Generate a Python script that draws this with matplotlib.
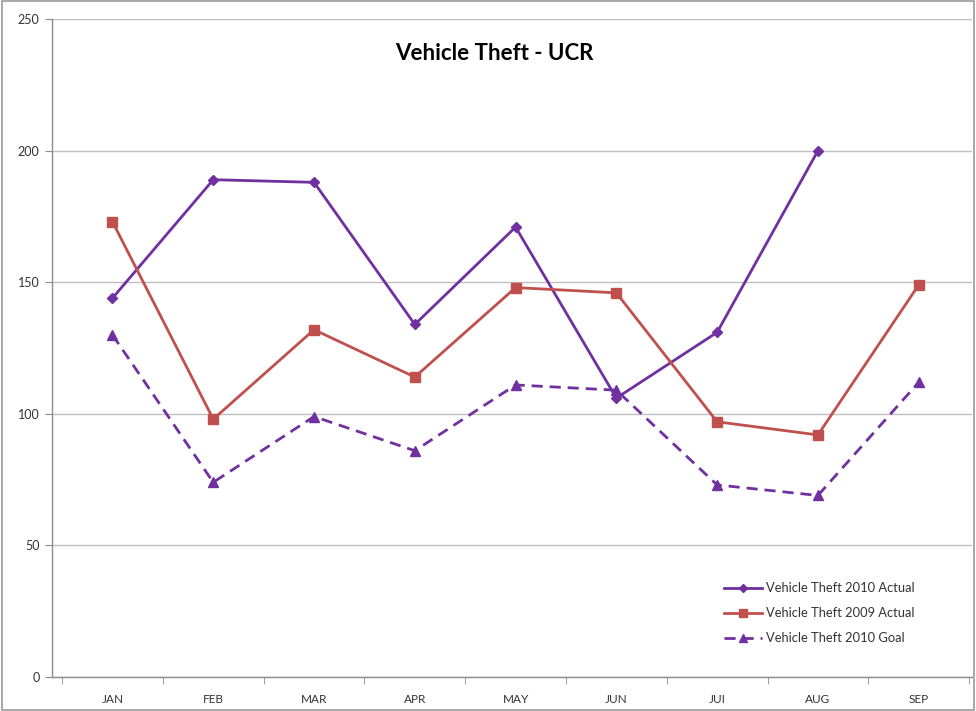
import matplotlib
matplotlib.use("Agg")
import matplotlib.pyplot as plt
import numpy as np

months = ["JAN", "FEB", "MAR", "APR", "MAY", "JUN", "JUI", "AUG", "SEP"]
actual_2010 = [144, 189, 188, 134, 171, 106, 131, 200]
actual_2009 = [173, 98, 132, 114, 148, 146, 97, 92, 149]
goal_2010 = [130, 74, 99, 86, 111, 109, 73, 69, 112]
yticks = [0, 50, 100, 150, 200, 250]

plt.rcParams['font.family'] = ['Lato', 'DejaVu Sans']

fig = plt.figure(figsize=(9.76, 7.11), dpi=100)
fig.patch.set_facecolor("white")
# outer border
fig.add_artist(plt.Rectangle((0.002, 0.002), 0.996, 0.996, transform=fig.transFigure,
                             fill=False, edgecolor="#9a9a9a", linewidth=1.2))

ax = fig.add_axes([0.0533, 0.0478, 0.9427, 0.9252])
x = np.arange(len(months))

purple = "#7030A0"
red = "#C0504D"

ax.plot(x[:len(actual_2010)], actual_2010, color=purple, lw=2, marker="D", ms=5.5,
        label="Vehicle Theft 2010 Actual", zorder=3)
ax.plot(x, actual_2009, color=red, lw=2, marker="s", ms=7,
        label="Vehicle Theft 2009 Actual", zorder=3)
ax.plot(x, goal_2010, color=purple, lw=2, ls=(0, (4, 2.5)), marker="^", ms=7,
        label="Vehicle Theft 2010 Goal", zorder=3)

ax.set_ylim(0, 250)
ax.set_yticks(yticks)
ax.set_xlim(-0.6, 8.53)
ax.set_xticks(x)
ax.set_xticklabels(months)
ax.set_xticks(np.arange(-0.5, 8.6, 1), minor=True)
ax.tick_params(axis="x", which="major", length=0, pad=12, labelsize=8.5, colors="#333333")
ax.tick_params(axis="x", which="minor", length=5, color="#8c8c8c", direction="out")
ax.tick_params(axis="y", length=5, color="#8c8c8c", labelsize=9, colors="#333333", pad=4)
ax.tick_params(axis="y", colors="#8c8c8c", labelcolor="#333333")

ax.grid(axis="y", color="#bfbfbf", lw=1)
ax.set_axisbelow(True)
for s in ["top", "right"]:
    ax.spines[s].set_visible(False)
for s in ["left", "bottom"]:
    ax.spines[s].set_color("#8c8c8c")
    ax.spines[s].set_linewidth(1)

ax.set_title("Vehicle Theft - UCR", fontsize=16, fontweight="bold", x=0.481, y=0.925)

leg = ax.legend(loc="lower left", bbox_to_anchor=(0.73, 0.05), frameon=False,
                fontsize=9.3, handlelength=3.0, labelspacing=1.0, handletextpad=0.25,
                borderpad=0, borderaxespad=0, markerscale=0.8)
for t in leg.get_texts():
    t.set_color("#333333")

fig.savefig("out.png", dpi=100, facecolor="white")
